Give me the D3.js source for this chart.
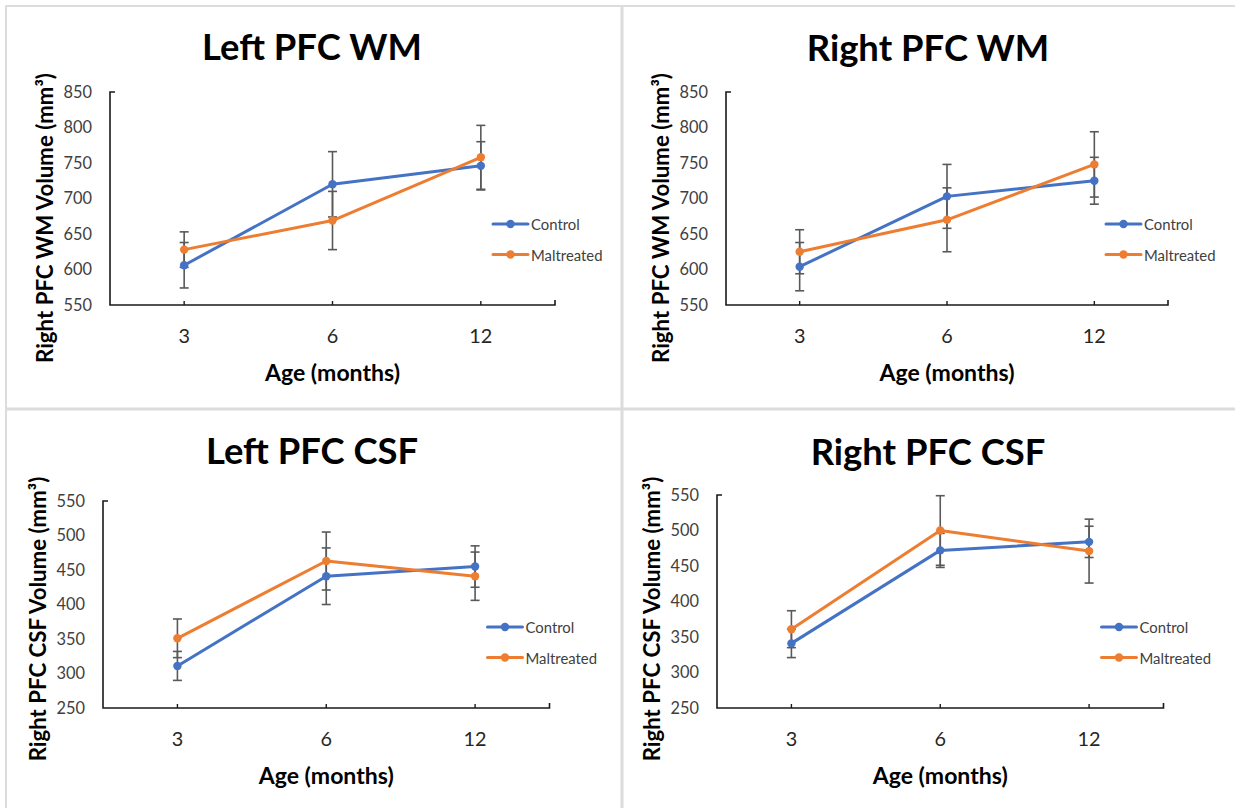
<!DOCTYPE html>
<html>
<head>
<meta charset="utf-8">
<script src="https://cdn.jsdelivr.net/npm/d3@7"></script>
<style>
  html, body { margin: 0; padding: 0; background: #ffffff; }
  svg { display: block; }
</style>
</head>
<body>
<svg id="chart" width="1235" height="808"></svg>
<script>
// ---- data -------------------------------------------------------------
const ages = ["3", "6", "12"];
const seriesNames = ["Control", "Maltreated"];

const panelTitles = ["Left PFC WM", "Right PFC WM", "Left PFC CSF", "Right PFC CSF"];
const yAxisTitles = [
  "Right PFC WM Volume (mm³)",
  "Right PFC WM Volume (mm³)",
  "Right PFC CSF Volume (mm³)",
  "Right PFC CSF Volume (mm³)"
];
const xAxisTitle = "Age (months)";

const wmTicks = [550, 600, 650, 700, 750, 800, 850];
const csfTicks = [250, 300, 350, 400, 450, 500, 550];

// group means (mm³) and error bar half-widths
const leftWMControl = [606, 720, 746];
const leftWMControlErr = [32, 46, 34];
const leftWMMaltreated = [628, 669, 758];
const leftWMMaltreatedErr = [25, 41, 45];

const rightWMControl = [604, 703, 725];
const rightWMControlErr = [34, 45, 33];
const rightWMMaltreated = [625, 670, 748];
const rightWMMaltreatedErr = [31, 45, 46];

const leftCSFControl = [311, 441, 455];
const leftCSFControlErr = [21, 41, 30];
const leftCSFMaltreated = [351, 463, 441];
const leftCSFMaltreatedErr = [28, 42, 35];

const rightCSFControl = [341, 472, 484];
const rightCSFControlErr = [20, 24, 22];
const rightCSFMaltreated = [361, 500, 471];
const rightCSFMaltreatedErr = [26, 49, 45];

// ---- panel assembly ---------------------------------------------------
const panels = [
  { title: panelTitles[0], yTitle: yAxisTitles[0], ticks: wmTicks,
    series: [[leftWMControl, leftWMControlErr], [leftWMMaltreated, leftWMMaltreatedErr]] },
  { title: panelTitles[1], yTitle: yAxisTitles[1], ticks: wmTicks,
    series: [[rightWMControl, rightWMControlErr], [rightWMMaltreated, rightWMMaltreatedErr]] },
  { title: panelTitles[2], yTitle: yAxisTitles[2], ticks: csfTicks,
    series: [[leftCSFControl, leftCSFControlErr], [leftCSFMaltreated, leftCSFMaltreatedErr]] },
  { title: panelTitles[3], yTitle: yAxisTitles[3], ticks: csfTicks,
    series: [[rightCSFControl, rightCSFControlErr], [rightCSFMaltreated, rightCSFMaltreatedErr]] }
];

// plot frames for each panel
const frames = [
  { left: 110, right: 555,   top: 92,  bottom: 305, titleX: 312, titleY: 46,  yTitleY: 218 },
  { left: 726, right: 1168,  top: 92,  bottom: 305, titleX: 928, titleY: 47,  yTitleY: 218 },
  { left: 103, right: 549.5, top: 501, bottom: 708, titleX: 312, titleY: 450, yTitleY: 619 },
  { left: 717, right: 1163.5,top: 495, bottom: 708, titleX: 928, titleY: 451, yTitleY: 619 }
];

const colors = ["#4472C4", "#ED7D31"];
const FONT = "Lato, 'Open Sans', 'Liberation Sans', sans-serif";

const svg = d3.select("#chart");

// size a font so that a sample string spans a given width
function fitSize(sample, weight, width) {
  const t = svg.append("text")
    .attr("font-family", FONT).attr("font-weight", weight)
    .attr("font-size", 100).text(sample);
  const w = t.node().getComputedTextLength();
  t.remove();
  return 100 * width / w;
}

const titleSize = fitSize("Left PFC WM", 700, 220);
const yTitleSize = fitSize("Right PFC WM Volume (mm³)", 700, 290);
const xTitleSize = fitSize(xAxisTitle, 700, 135);
const xTickSize = fitSize("12", 400, 23);
const yTickSize = fitSize("850", 400, 28.5);
const legendSize = fitSize("Maltreated", 400, 71.5);

// ---- panel separators -------------------------------------------------
const sep = svg.append("g").attr("fill", "#dcdcdc");
sep.append("rect").attr("x", 6).attr("y", 5).attr("width", 1229).attr("height", 2);
sep.append("rect").attr("x", 5).attr("y", 5).attr("width", 2).attr("height", 803);
sep.append("rect").attr("x", 620.5).attr("y", 5).attr("width", 3).attr("height", 803);
sep.append("rect").attr("x", 5).attr("y", 407.5).attr("width", 1230).attr("height", 3);

// ---- panels -----------------------------------------------------------
panels.forEach((p, i) => {
  const f = frames[i];
  const g = svg.append("g");

  const x = d3.scaleBand().domain(ages).range([f.left, f.right]).paddingInner(0).paddingOuter(0);
  const cx = d => x(d) + x.bandwidth() / 2;
  const y = d3.scaleLinear().domain(d3.extent(p.ticks)).range([f.bottom, f.top]);

  // title
  g.append("text")
    .attr("x", f.titleX).attr("y", f.titleY)
    .attr("text-anchor", "middle").attr("dominant-baseline", "central")
    .attr("font-family", FONT).attr("font-weight", 700)
    .attr("font-size", titleSize).attr("fill", "#000")
    .text(p.title);

  // y axis
  const yAxis = d3.axisLeft(y).tickValues(p.ticks).tickSize(0).tickPadding(18);
  const ya = g.append("g").attr("transform", `translate(${f.left},0)`).call(yAxis);
  ya.select(".domain").remove();
  ya.selectAll("text")
    .attr("font-family", FONT).attr("font-size", yTickSize).attr("fill", "#404040");

  // x axis
  const xAxis = d3.axisBottom(x).tickSize(0).tickPadding(0);
  const xa = g.append("g").attr("transform", `translate(0,${f.bottom})`).call(xAxis);
  xa.select(".domain").remove();
  xa.selectAll("text")
    .attr("dy", null).attr("y", 30).attr("dominant-baseline", "central")
    .attr("font-family", FONT).attr("font-size", xTickSize).attr("fill", "#262626");

  // axis lines with inner ticks
  const axisColor = "#1a1a1a";
  g.append("path")
    .attr("d", `M${f.left + 5},${f.top}H${f.left}V${f.bottom}H${f.right}V${f.bottom - 5}`)
    .attr("fill", "none").attr("stroke", axisColor).attr("stroke-width", 1.6);
  g.selectAll(".xt").data(ages).join("line")
    .attr("x1", d => cx(d)).attr("x2", d => cx(d))
    .attr("y1", f.bottom).attr("y2", f.bottom - 4)
    .attr("stroke", axisColor).attr("stroke-width", 1.4);

  // axis titles
  g.append("text")
    .attr("x", (f.left + f.right) / 2).attr("y", f.bottom + 67)
    .attr("text-anchor", "middle").attr("dominant-baseline", "central")
    .attr("font-family", FONT).attr("font-weight", 700)
    .attr("font-size", xTitleSize).attr("fill", "#000")
    .text(xAxisTitle);

  g.append("text")
    .attr("transform", `translate(${f.left - 66},${f.yTitleY}) rotate(-90)`)
    .attr("text-anchor", "middle").attr("dominant-baseline", "central")
    .attr("font-family", FONT).attr("font-weight", 700)
    .attr("font-size", yTitleSize).attr("fill", "#000")
    .text(p.yTitle);

  // error bars
  p.series.forEach(([vals, errs]) => {
    const eg = g.append("g").attr("stroke", "#595959").attr("stroke-width", 1.6);
    ages.forEach((a, k) => {
      const xc = cx(a), y0 = y(vals[k] - errs[k]), y1 = y(vals[k] + errs[k]);
      eg.append("line").attr("x1", xc).attr("x2", xc).attr("y1", y0).attr("y2", y1);
      eg.append("line").attr("x1", xc - 4.5).attr("x2", xc + 4.5).attr("y1", y0).attr("y2", y0);
      eg.append("line").attr("x1", xc - 4.5).attr("x2", xc + 4.5).attr("y1", y1).attr("y2", y1);
    });
  });

  // series lines and markers
  const line = d3.line().x((d, k) => cx(ages[k])).y(d => y(d));
  p.series.forEach(([vals], s) => {
    g.append("path").datum(vals)
      .attr("d", line)
      .attr("fill", "none").attr("stroke", colors[s])
      .attr("stroke-width", 3).attr("stroke-linejoin", "round").attr("stroke-linecap", "round");
    g.selectAll(null).data(vals).join("circle")
      .attr("cx", (d, k) => cx(ages[k])).attr("cy", d => y(d))
      .attr("r", 4.2).attr("fill", colors[s]);
  });

  // legend
  seriesNames.forEach((name, s) => {
    const ly = f.bottom - 81 + s * 30.5;
    const lx = f.right - 62;
    g.append("line").attr("x1", lx).attr("x2", lx + 35).attr("y1", ly).attr("y2", ly)
      .attr("stroke", colors[s]).attr("stroke-width", 3).attr("stroke-linecap", "round");
    g.append("circle").attr("cx", lx + 17.5).attr("cy", ly).attr("r", 4.2).attr("fill", colors[s]);
    g.append("text").attr("x", lx + 38).attr("y", ly)
      .attr("dominant-baseline", "central")
      .attr("font-family", FONT).attr("font-size", legendSize).attr("fill", "#404040")
      .text(name);
  });
});
</script>
</body>
</html>
